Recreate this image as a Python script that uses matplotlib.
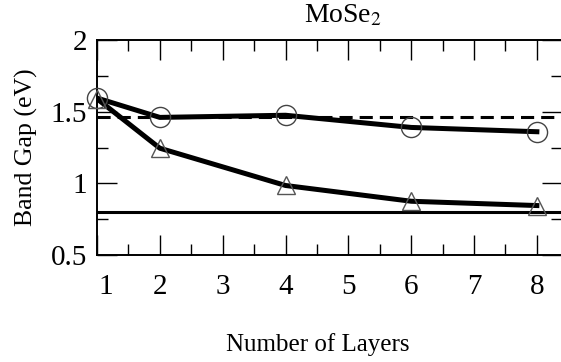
import numpy as np
import matplotlib
matplotlib.use('Agg')
from matplotlib import pyplot as plt
from matplotlib.ticker import MultipleLocator
import matplotlib.transforms as mtransforms

# band gap of MoSe2 vs number of layers
layers = [1, 2, 4, 6, 8]
gap_circle = [1.595, 1.46, 1.475, 1.39, 1.36]
gap_triangle = [1.59, 1.245, 0.985, 0.875, 0.845]
bulk_dashed = 1.46
bulk_solid = 0.80

xticks = [1, 2, 3, 4, 5, 6, 7, 8]
yticks = [0.5, 1, 1.5, 2]

plt.rcParams['font.family'] = ['Liberation Serif', 'DejaVu Serif']
plt.rcParams['mathtext.fontset'] = 'stix'

fig = plt.figure(figsize=(5.61, 3.62), dpi=100)
ax = fig.add_axes([97/561, 1-255/362, 465/561, 215/362])

ax.axhline(bulk_dashed, color='black', lw=2.2, ls=(0, (4.3, 2.3)), zorder=2)
ax.axhline(bulk_solid, color='black', lw=2.2, zorder=2)

ax.plot(layers, gap_circle, color='black', lw=3.6, zorder=3)
ax.plot(layers, gap_triangle, color='black', lw=3.6, zorder=3)
ax.plot(layers, gap_circle, ls='none', marker='o', ms=14.5, mfc='none',
        mec='#444444', mew=1.0, zorder=4, clip_on=False)
ax.plot(layers, gap_triangle, ls='none', marker='^', ms=13, mfc='none',
        mec='#555555', mew=1.0, zorder=4, clip_on=False)

ax.set_xlim(1.0, 8.4)
ax.set_ylim(0.5, 2)
ax.set_xticks(xticks)
ax.xaxis.set_minor_locator(MultipleLocator(0.5))
ax.set_yticks(yticks)
ax.set_yticklabels(['0.5', '1', '1.5', '2'])
ax.yaxis.set_minor_locator(MultipleLocator(0.25))

ax.tick_params(which='both', direction='in', top=True, right=True,
               width=1.0, labelsize=21)
ax.tick_params(which='major', length=14.5)
ax.tick_params(which='minor', length=8)
ax.tick_params(axis='x', pad=14)
ax.tick_params(axis='y', pad=7)
for sp in ax.spines.values():
    sp.set_linewidth(1.4)

# nudge the "1" label off the spine
first = ax.xaxis.get_major_ticks()[0].label1
first.set_transform(first.get_transform() +
                    mtransforms.ScaledTranslation(9/100, 0, fig.dpi_scale_trans))

ax.set_ylabel('Band Gap (eV)', fontsize=18.5)
ax.yaxis.set_label_coords(-0.127, 0.5)
ax.set_xlabel('Number of Layers', fontsize=18)
ax.xaxis.set_label_coords(0.475, -0.365)
ax.text(0.53, 1.055, 'MoSe$_2$', transform=ax.transAxes, ha='center',
        va='bottom', fontsize=20)

fig.savefig('out.png', dpi=100)
